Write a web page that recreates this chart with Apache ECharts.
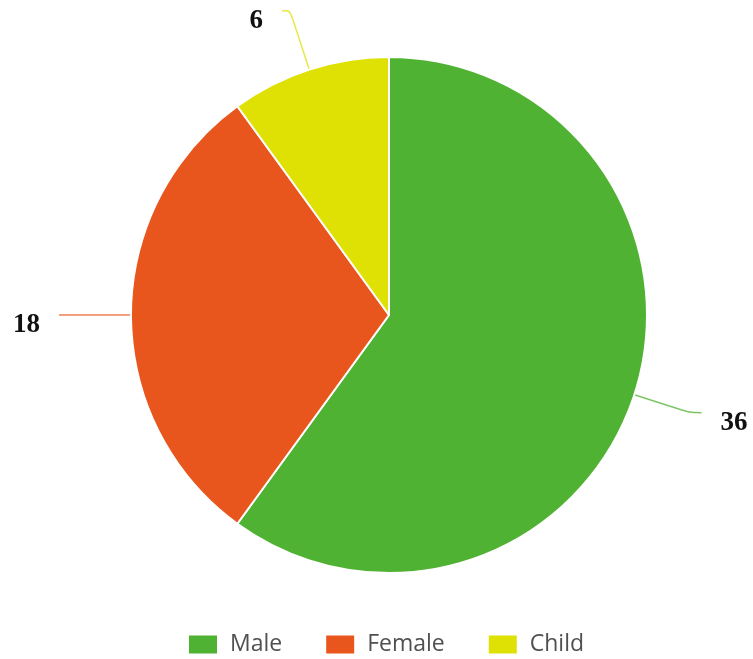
<!DOCTYPE html>
<html>
<head>
<meta charset="utf-8">
<script src="https://cdn.jsdelivr.net/npm/echarts@6/dist/echarts.min.js"></script>
<style>
html,body{margin:0;padding:0;background:#fff;}
#chart{width:753px;height:659px;}
</style>
</head>
<body>
<div id="chart"></div>
<script>
var categories = ['Male', 'Female', 'Child'];
var values = [36, 18, 6];
var colors = ['#50b232', '#e9561d', '#dfe004'];
var lineLengths = [[58, 12], [40, 32], [62, 8]];

var data = categories.map(function (c, i) {
  return {
    name: c,
    value: values[i],
    itemStyle: { color: colors[i] },
    labelLine: { length: lineLengths[i][0], length2: lineLengths[i][1] }
  };
});

var chart = echarts.init(document.getElementById('chart'));
chart.setOption({
  animation: false,
  backgroundColor: '#ffffff',
  legend: {
    top: 628,
    left: 182,
    itemWidth: 30,
    itemHeight: 20,
    itemGap: 42,
    icon: 'rect',
    textStyle: { color: '#505050', fontSize: 23, fontFamily: 'Open Sans', padding: [0, 0, 0, 7] },
    data: categories
  },
  series: [{
    type: 'pie',
    center: [389, 315],
    radius: 258,
    startAngle: 90,
    clockwise: true,
    avoidLabelOverlap: false,
    itemStyle: { borderColor: '#fff', borderWidth: 2 },
    label: {
      show: true,
      formatter: '\n{c}',
      color: '#111',
      fontSize: 27,
      lineHeight: 21,
      fontWeight: 'bold',
      fontFamily: 'Liberation Serif',
      distanceToLabelLine: 19
    },
    labelLine: { show: true, smooth: 0.3, lineStyle: { width: 1.5, opacity: 0.75 } },
    data: data
  }]
});
</script>
</body>
</html>
